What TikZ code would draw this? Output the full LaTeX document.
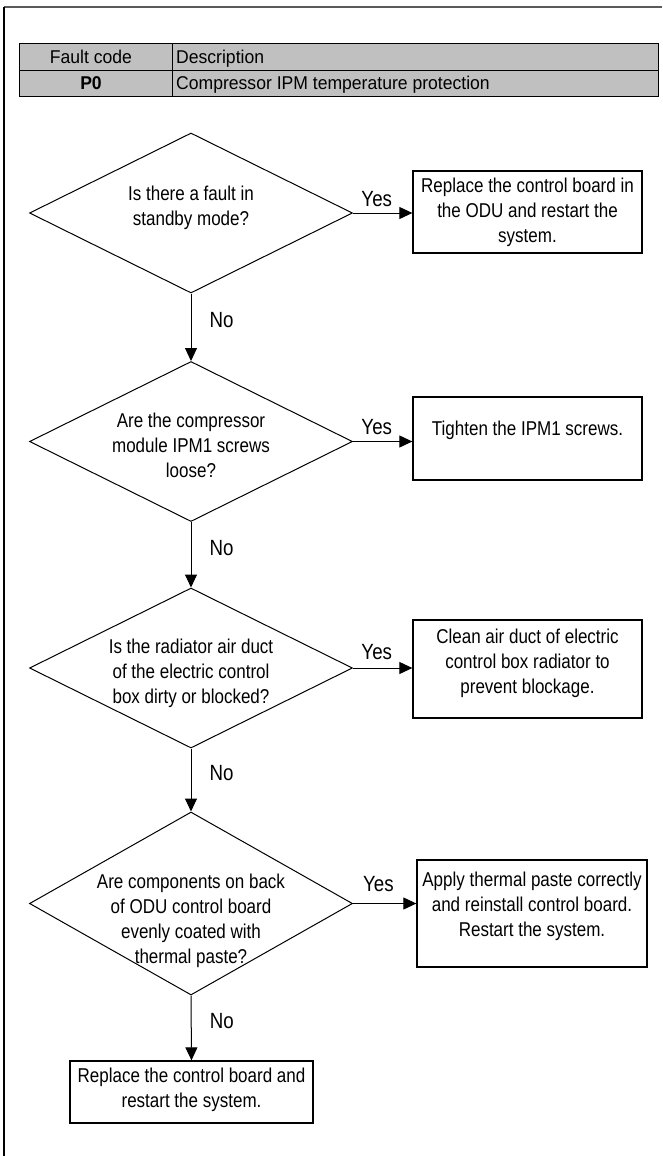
\documentclass[tikz,border=0pt]{standalone}
\usepackage{fontspec}
\setmainfont{Liberation Sans}[FakeStretch=0.85]
\newfontfamily\cellfont{Liberation Sans}[FakeStretch=0.95]
\usetikzlibrary{shapes.geometric,arrows.meta}

\definecolor{cellgray}{HTML}{C0C0C0}
\definecolor{framegray}{HTML}{5A5A5A}

\begin{document}
\begin{tikzpicture}[
  x=1pt,
  y=-1pt,
  font=\fontsize{20}{25}\selectfont,
  decision/.style={diamond, draw, line width=1pt, minimum width=323pt, minimum height=160pt, inner sep=0pt},
  qtext/.style={align=center, inner sep=0pt},
  action/.style={draw, line width=1.3pt, align=center, minimum width=229pt, inner sep=2pt},
  answer/.style={font=\fontsize{22}{26}\selectfont, inner sep=2pt},
  flow/.style={-{Triangle[length=13pt,width=12pt]}, line width=1pt},
  cell/.style={font=\cellfont\fontsize{18.5}{20}\selectfont, inner sep=0pt}
]

% Page size and frame
\useasboundingbox (0,0) rectangle (662,1156);
\fill[white] (0,0) rectangle (662,1156);
\draw[framegray, line width=2pt] (4,7) -- (662,7);
\draw[line width=1.6pt] (4,7) -- (4,1156);

% Fault code table
\fill[cellgray] (19,43.3) rectangle (658,96.7);
\draw[line width=1pt] (19,43.3) rectangle (658,96.7);
\draw[line width=1pt] (19,70.7) -- (658,70.7);
\draw[line width=1pt] (172.7,43.3) -- (172.7,96.7);
\node[cell, anchor=base] (hcode) at (91,63.5) {Fault code};
\node[cell, anchor=base west] (hdesc) at (176,63.5) {Description};
\node[cell, anchor=base] (code) at (91,89.5) {\bfseries P0};
\node[cell, anchor=base west] (desc) at (176,89.5) {Compressor IPM temperature protection};

% Questions
\node[decision] (q1) at (191,213) {};
\node[decision] (q2) at (191,441.5) {};
\node[decision] (q3) at (191,668) {};
\node[decision, minimum height=183pt] (q4) at (191,903.5) {};

\node[qtext] (q1text) at (191,208) {Is there a fault in\\standby mode?};
\node[qtext] (q2text) at (191,445) {Are the compressor\\module IPM1 screws\\loose?};
\node[qtext] (q3text) at (191,673) {Is the radiator air duct\\of the electric control\\box dirty or blocked?};
\node[qtext] (q4text) at (191,921) {Are components on back\\of ODU control board\\evenly coated with\\thermal paste?};

% Actions
\node[action, minimum height=82pt] (b1) at (527.5,212) {Replace the control board in\\the ODU and restart the\\system.};
\node[action, minimum height=83pt, text depth=20pt] (b2) at (527.5,438.5) {Tighten the IPM1 screws.};
\node[action, minimum height=98pt, text depth=16pt] (b3) at (527.5,669) {Clean air duct of electric\\control box radiator to\\prevent blockage.};
\node[action, minimum height=107pt, minimum width=230pt, text depth=18pt] (b4) at (532,913.5) {Apply thermal paste correctly\\and reinstall control board.\\Restart the system.};
\node[action, minimum height=62pt, minimum width=243pt, text depth=8pt] (b5) at (191.5,1092) {Replace the control board and\\restart the system.};

% Yes branches
\foreach \i/\s in {1/4,2/4,3/6,4/9} {
  \draw[flow] (q\i.east) -- node[answer, pos=0.4, above=\s pt] (yes\i) {Yes} (q\i.east -| b\i.west);
}

% No branches
\foreach \a/\b/\n in {q1/q2/1, q2/q3/2, q3/q4/3, q4/b5/4} {
  \draw[flow] (\a.south) -- node[answer, midway, right, xshift=16pt, yshift=7pt] (no\n) {No} (\b.north);
}

\end{tikzpicture}
\end{document}
